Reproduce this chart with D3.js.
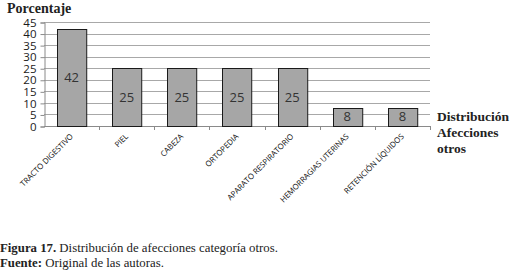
<!DOCTYPE html>
<html>
<head>
<meta charset="utf-8">
<script src="https://cdn.jsdelivr.net/npm/d3@7"></script>
<style>
  body { margin: 0; background: #fff; }
  svg { display: block; }
</style>
</head>
<body>
<div id="chart"></div>
<script>
var categories = ["TRACTO DIGESTIVO", "PIEL", "CABEZA", "ORTOPEDIA",
	"APARATO RESPIRATORIO", "HEMORRAGIAS UTERINAS", "RETENCIÓN LÍQUIDOS"];
var values = [42, 25, 25, 25, 25, 8, 8];
var yTicks = [0, 5, 10, 15, 20, 25, 30, 35, 40, 45];
var legendLines = ["Distribución", "Afecciones", "otros"];

var width = 515,
	height = 273,
	plotLeft = 44,
	plotRight = 430,
	plotTop = 22,
	plotBottom = 126;

var svg = d3.select("#chart").append("svg")
	.attr("width", width)
	.attr("height", height);

var xBand = d3.scaleBand()
	.domain(categories)
	.range([plotLeft, plotRight]);

var xScale = d3.scaleBand()
	.domain(categories)
	.range([plotLeft, plotRight])
	.paddingInner(0.47)
	.paddingOuter(0.235);

var yScale = d3.scaleLinear()
	.domain([0, 45])
	.range([plotBottom, plotTop]);

//gridlines
svg.append("g")
	.selectAll("line")
	.data(yTicks.slice(1))
	.enter()
	.append("line")
	.attr("x1", plotLeft)
	.attr("x2", plotRight)
	.attr("y1", function(d) { return Math.round(yScale(d)) + 0.5; })
	.attr("y2", function(d) { return Math.round(yScale(d)) + 0.5; })
	.attr("stroke", "#a8a8a8")
	.attr("stroke-width", 1);

//y axis
var yAxis = d3.axisLeft(yScale)
	.tickValues(yTicks)
	.tickSize(4)
	.tickPadding(4);

var gy = svg.append("g")
	.attr("transform", "translate(" + (plotLeft + 0.5) + ",0.5)")
	.call(yAxis);
gy.select(".domain").attr("stroke", "#8a8a8a");
gy.selectAll(".tick line").attr("stroke", "#8a8a8a");
gy.selectAll(".tick text")
	.attr("fill", "#1a1a1a")
	.style("font-family", "'Open Sans', sans-serif")
	.style("font-size", "11.5px");

//x axis line and ticks on category boundaries
svg.append("line")
	.attr("x1", plotLeft)
	.attr("x2", plotRight)
	.attr("y1", plotBottom + 0.5)
	.attr("y2", plotBottom + 0.5)
	.attr("stroke", "#8a8a8a");

svg.append("g")
	.selectAll("line")
	.data(categories)
	.enter()
	.append("line")
	.attr("x1", function(d) { return Math.round(xBand(d) + xBand.bandwidth()) + 0.5; })
	.attr("x2", function(d) { return Math.round(xBand(d) + xBand.bandwidth()) + 0.5; })
	.attr("y1", plotBottom)
	.attr("y2", plotBottom + 4)
	.attr("stroke", "#8a8a8a");

//bars
svg.selectAll("rect.bar")
	.data(values)
	.enter()
	.append("rect")
	.attr("class", "bar")
	.attr("x", function(d, i) { return Math.round(xScale(categories[i])) + 0.5; })
	.attr("y", function(d) { return Math.round(yScale(d)) + 0.5; })
	.attr("width", xScale.bandwidth())
	.attr("height", function(d) { return Math.round(plotBottom - yScale(d)); })
	.attr("fill", "#a6a6a6")
	.attr("stroke", "#1a1a1a")
	.attr("stroke-width", 1);

//value labels
svg.selectAll("text.value")
	.data(values)
	.enter()
	.append("text")
	.attr("class", "value")
	.text(function(d) { return d; })
	.attr("x", function(d, i) { return xScale(categories[i]) + xScale.bandwidth() / 2; })
	.attr("y", function(d) { return (yScale(d) + plotBottom) / 2; })
	.attr("dy", "0.36em")
	.attr("text-anchor", "middle")
	.attr("fill", "#333")
	.style("font-family", "'Open Sans', sans-serif")
	.style("font-size", "13px");

//category labels
svg.selectAll("text.cat")
	.data(categories)
	.enter()
	.append("text")
	.attr("class", "cat")
	.text(function(d) { return d; })
	.attr("text-anchor", "end")
	.attr("transform", function(d) {
		var cx = xBand(d) + xBand.bandwidth() / 2 + 2;
		return "translate(" + cx + ",137) rotate(-45)";
	})
	.attr("fill", "#111")
	.style("font-family", "'Open Sans', sans-serif")
	.style("font-size", "7.8px");

//title
svg.append("text")
	.text("Porcentaje")
	.attr("x", 7)
	.attr("y", 13)
	.style("font-family", "'Liberation Serif', serif")
	.style("font-weight", "bold")
	.style("font-size", "14px")
	.attr("fill", "#222");

//legend
svg.append("g")
	.selectAll("text")
	.data(legendLines)
	.enter()
	.append("text")
	.text(function(d) { return d; })
	.attr("x", 437)
	.attr("y", function(d, i) { return 121 + i * 16; })
	.style("font-family", "'Liberation Serif', serif")
	.style("font-weight", "bold")
	.style("font-size", "13.5px")
	.attr("fill", "#222");

//caption
var cap = svg.append("g")
	.style("font-family", "'Liberation Serif', serif")
	.style("font-size", "12.8px")
	.attr("fill", "#222");

var c1 = cap.append("text").attr("x", 0).attr("y", 252);
c1.append("tspan").style("font-weight", "bold").text("Figura 17.");
c1.append("tspan").text(" Distribución de afecciones categoría otros.");

var c2 = cap.append("text").attr("x", 0).attr("y", 267);
c2.append("tspan").style("font-weight", "bold").text("Fuente:");
c2.append("tspan").text(" Original de las autoras.");
</script>
</body>
</html>
